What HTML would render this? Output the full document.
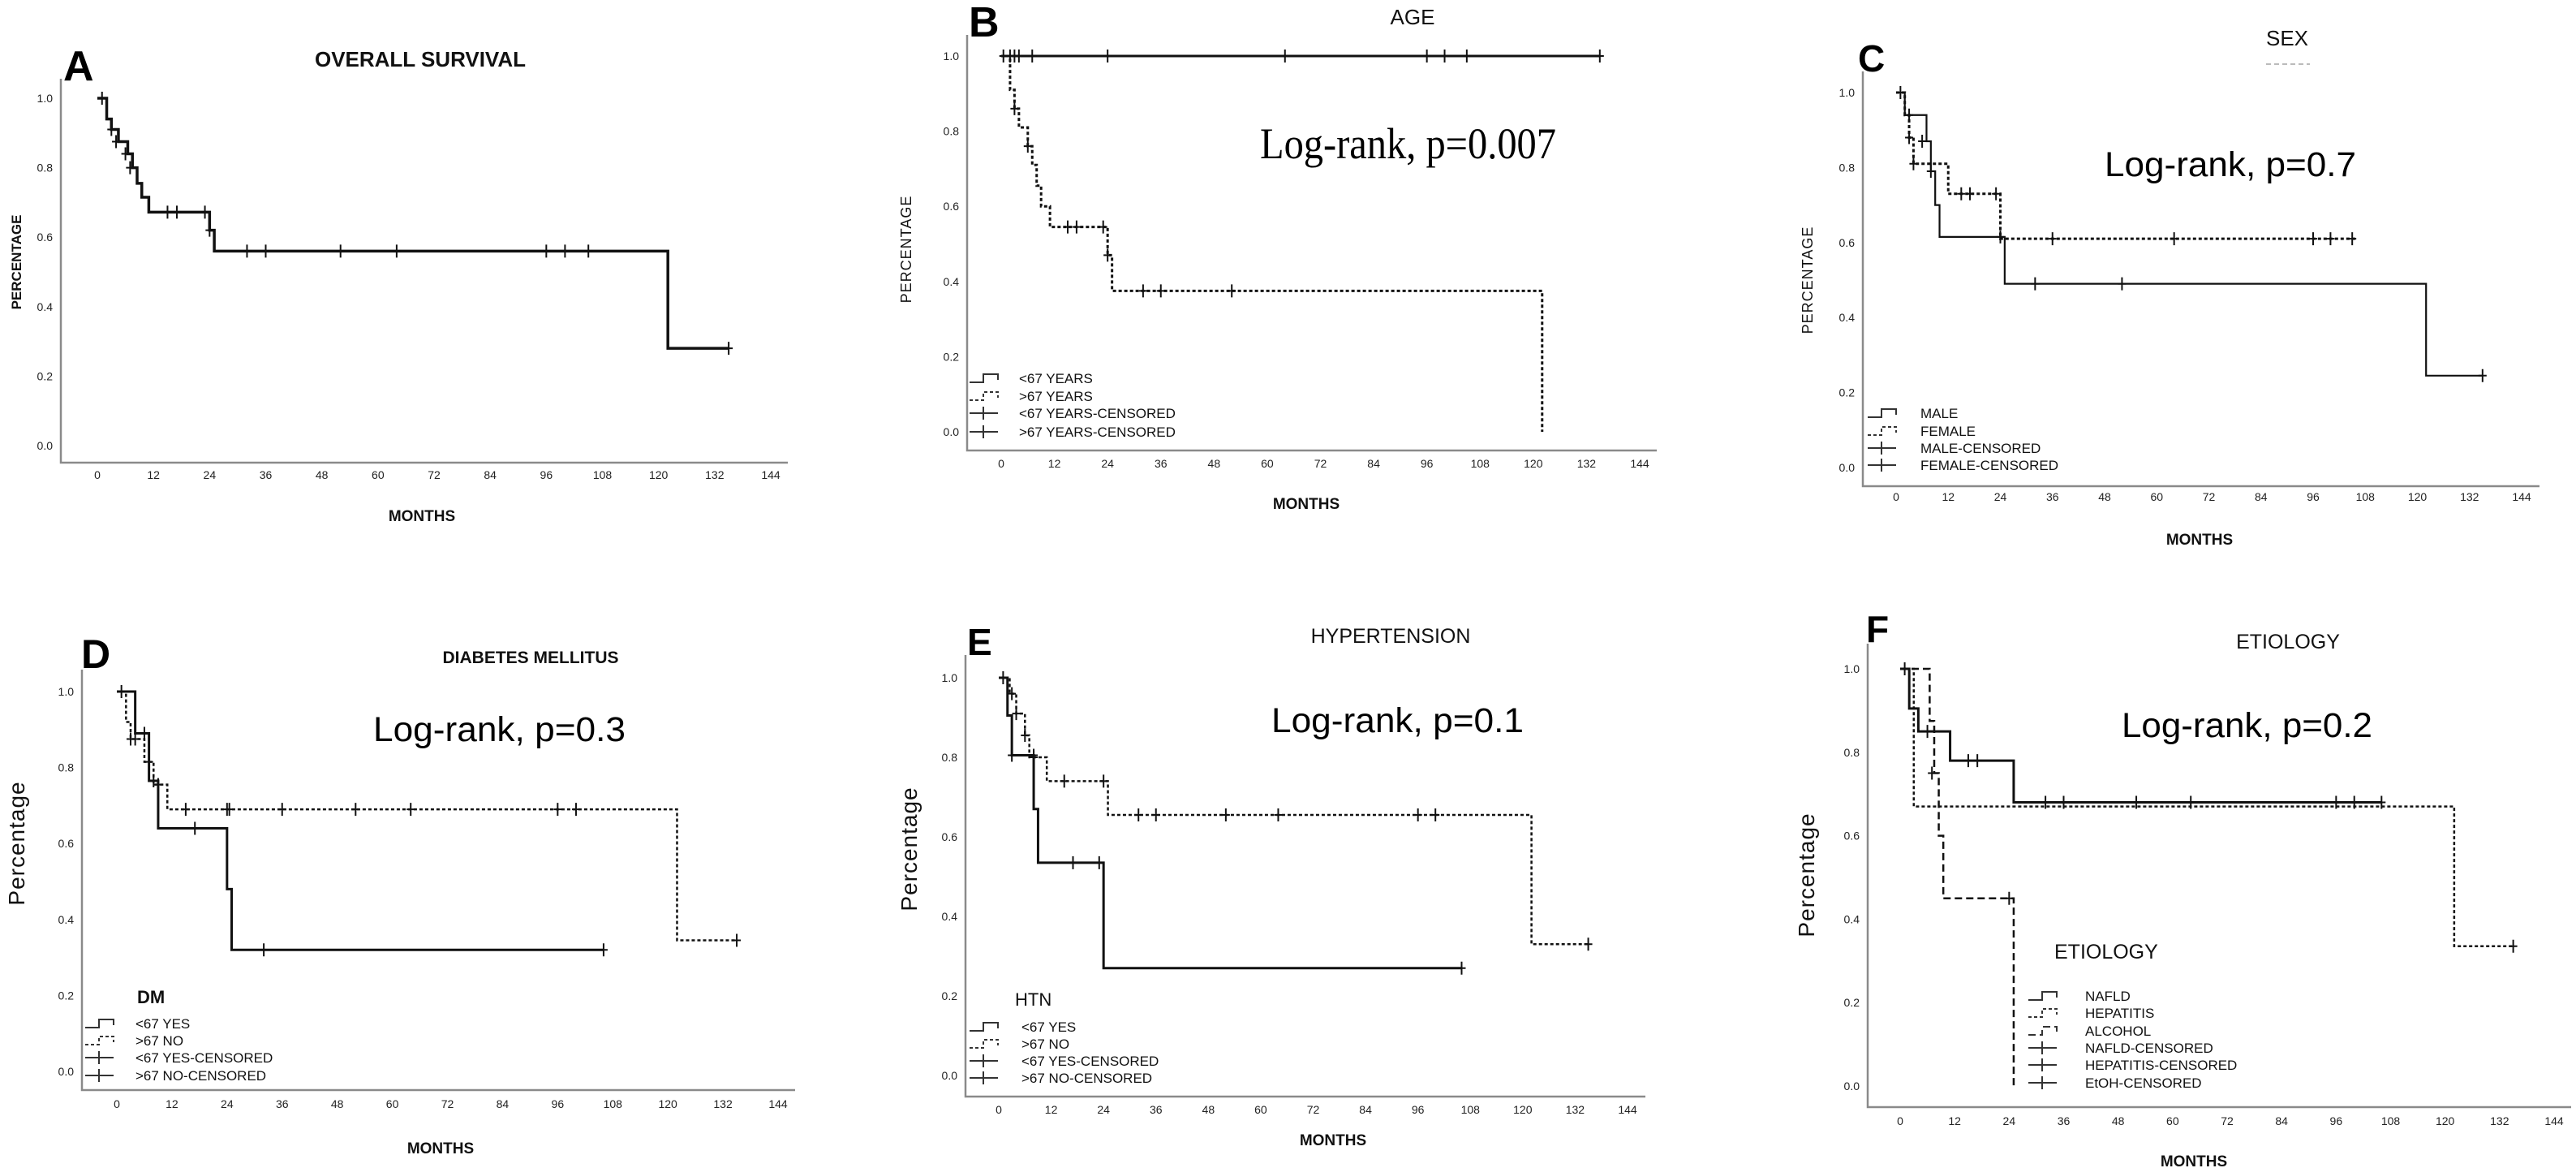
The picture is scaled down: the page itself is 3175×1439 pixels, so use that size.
<!DOCTYPE html>
<html><head><meta charset="utf-8">
<style>
html,body{margin:0;padding:0;background:#fff;}
svg{display:block;font-family:"Liberation Sans",sans-serif;}
</style></head>
<body>
<svg id="fig" width="3175" height="1439" viewBox="0 0 3175 1439" xmlns="http://www.w3.org/2000/svg"></svg>
<script>
// ---------- data ----------
const monthTicks = [0,12,24,36,48,60,72,84,96,108,120,132,144];
const probTicks = ["0.0","0.2","0.4","0.6","0.8","1.0"];

// Panel A
const aT = [0,2,3,4.5,6.5,7.5,8.5,9.5,11,24,25,122];
const aS = [1,0.94,0.91,0.875,0.84,0.80,0.755,0.715,0.672,0.62,0.56,0.28];
const aCT = [1,3,4,6,7,15,17,23,24,32,36,52,64,96,100,105,135];
const aCS = [1,0.91,0.875,0.84,0.80,0.672,0.672,0.672,0.62,0.56,0.56,0.56,0.56,0.56,0.56,0.56,0.28];
// Panel B
const b1T = [0]; const b1S = [1];
const b1CT = [0.5,2,3,4,7,24,64,96,100,105,135];
const b1CS = [1,1,1,1,1,1,1,1,1,1,1];
const b2T = [0,2,3,4,6,7,8,9,11,24,25,122];
const b2S = [1,0.91,0.86,0.81,0.76,0.71,0.655,0.6,0.545,0.47,0.375,0.0];
const b2CT = [3,6,15,17,23,24,32,36,52];
const b2CS = [0.86,0.76,0.545,0.545,0.545,0.47,0.375,0.375,0.375];
// Panel C
const c1T = [0,2,7,8,9,10,25,122];
const c1S = [1,0.94,0.87,0.79,0.70,0.615,0.49,0.245];
const c1CT = [1,6,8,32,52,135];
const c1CS = [1,0.87,0.79,0.49,0.49,0.245];
const c2T = [0,2,3,4,12,24];
const c2S = [1,0.94,0.88,0.81,0.73,0.61];
const c2CT = [3,3,4,15,17,23,24,36,64,96,100,105];
const c2CS = [0.94,0.88,0.81,0.73,0.73,0.73,0.615,0.61,0.61,0.61,0.61,0.61];
// Panel D
const d1T = [0,4,7,9,24,25];
const d1S = [1,0.89,0.765,0.64,0.48,0.32];
const d1CT = [1,6,8,17,32,106];
const d1CS = [1,0.89,0.765,0.64,0.32,0.32];
const d2T = [0,2,3,6,8,11,122];
const d2S = [1,0.92,0.875,0.815,0.755,0.69,0.345];
const d2CT = [3,4,7,9,15,24,24.5,36,52,64,96,100,135];
const d2CS = [0.875,0.875,0.815,0.755,0.69,0.69,0.69,0.69,0.69,0.69,0.69,0.69,0.345];
// Panel E
const e1T = [0,2,3,8,9,24];
const e1S = [1,0.905,0.805,0.67,0.535,0.27];
const e1CT = [1,3,8,17,23,106];
const e1CS = [1,0.805,0.805,0.535,0.535,0.27];
const e2T = [0,2.5,4,6,7,11,25,122];
const e2S = [1,0.96,0.91,0.855,0.80,0.74,0.655,0.33];
const e2CT = [3,4,6,8,15,24,32,36,52,64,96,100,135];
const e2CS = [0.96,0.91,0.855,0.80,0.74,0.74,0.655,0.655,0.655,0.655,0.655,0.655,0.33];
// Panel F
const f1T = [0,2,4,11,25];
const f1S = [1,0.905,0.85,0.78,0.68];
const f1CT = [1,6,15,17,32,36,52,64,96,100,106];
const f1CS = [1,0.85,0.78,0.78,0.68,0.68,0.68,0.68,0.68,0.68,0.68];
const f2T = [0,3,122];
const f2S = [1,0.67,0.335];
const f2CT = [135]; const f2CS = [0.335];
const f3T = [0,6.5,7.5,8.5,9.5,25];
const f3S = [1,0.875,0.75,0.60,0.45,0.0];
const f3CT = [7,24]; const f3CS = [0.75,0.45];

// ---------- drawing ----------
const NS = "http://www.w3.org/2000/svg";
const svg = document.getElementById('fig');
function mk(tag, attrs, parent, text){
  const e = document.createElementNS(NS, tag);
  for (const k in attrs) e.setAttribute(k, attrs[k]);
  if (text !== undefined) e.textContent = text;
  (parent || svg).appendChild(e);
  return e;
}

function panel(P){
  const g = mk('g', {});
  
  
  const sx = m => P.x0 + (P.x144 - P.x0) * m / 144;
  const sy = v => P.y0 + (P.y1 - P.y0) * v;
  // axes
  const ax = mk('path', {d:`M${P.axL},${P.axT} L${P.axL},${P.axB} L${P.axR},${P.axB}`, fill:'none', stroke:'#8a8a8a', 'stroke-width':2.5}, g);
  
  
  // y ticks
  probTicks.forEach(t => {
    const tl = mk('text', {x:P.axL-10, y:sy(parseFloat(t))+5, 'text-anchor':'end', 'font-size':14, fill:'#222'}, g, t);
    
    
  });
  monthTicks.forEach(m => {
    const tl = mk('text', {x:sx(m), y:P.tickY+5, 'text-anchor':'middle', 'font-size':14, fill:'#222'}, g, String(m));
    
    
  });
  // axis titles
  const xt = mk('text', {x:P.mx, y:P.my+7, 'text-anchor':'middle', 'font-size':19, 'font-weight':'bold', fill:'#111'}, g, 'MONTHS');
  
  
  const yt = mk('text', {x:0, y:0, 'text-anchor':'middle', 'font-size':P.ytSize, 'font-weight':P.ytBold?'bold':'normal', fill:'#111', transform:`translate(${P.ytx},${P.yty}) rotate(-90)`, 'letter-spacing':P.ytLs||0}, g, P.yTitle);
  
  
  // panel letter
  const lt = mk('text', {x:P.lx, y:P.ly, 'font-size':P.lsize, 'font-weight':'bold', fill:'#000'}, g, P.letter);
  
  
  // title
  const tt = mk('text', {x:P.tx, y:P.ty, 'text-anchor':'middle', 'font-size':P.tsize, 'font-weight':P.tbold?'bold':'normal', fill:'#111'}, g, P.title);
  
  
  // log-rank
  if (P.lr){
    const lr = mk('text', {x:P.lr.x, y:P.lr.y, 'font-size':P.lr.size, 'font-family':P.lr.serif?'"Liberation Serif",serif':'"Liberation Sans",sans-serif', textLength:P.lr.w, lengthAdjust:'spacingAndGlyphs', fill:'#000'}, g, P.lr.text);
    
    
  }
  // series
  P.series.forEach(S => {
    let d = `M${sx(S.t[0])},${sy(S.s[0])}`;
    for (let i = 1; i < S.t.length; i++){
      d += ` L${sx(S.t[i])},${sy(S.s[i-1])} L${sx(S.t[i])},${sy(S.s[i])}`;
    }
    d += ` L${sx(S.end)},${sy(S.s[S.s.length-1])}`;
    const p = mk('path', {d:d, fill:'none', stroke:'#111', 'stroke-width':S.w, 'stroke-dasharray':S.dash||'none'}, g);
    
    
    S.ct.forEach((m,i) => {
      const c = mk('path', {d:`M${sx(m)},${sy(S.cs[i])-8} L${sx(m)},${sy(S.cs[i])+8} M${sx(m)-5},${sy(S.cs[i])} L${sx(m)+5},${sy(S.cs[i])}`, stroke:'#111', 'stroke-width':2}, g);
      
      
    });
  });
  // legend
  if (P.leg){
    const L = P.leg;
    if (L.head){
      const h = mk('text', {x:L.hx, y:L.hy+9, 'font-size':L.hsize, 'font-weight':L.hbold?'bold':'normal', fill:'#111'}, g, L.head);
      
      
    }
    L.items.forEach((it, i) => {
      const y = L.ys[i];
      const x0 = L.sx, x1 = L.sx + 35;
      let d, dash = 'none';
      if (it.kind === 'censor'){
        d = `M${x0},${y} L${x1},${y} M${x0+17},${y-8} L${x0+17},${y+8}`;
      } else {
        d = `M${x0},${y+5} L${x0+17},${y+5} L${x0+17},${y-5} L${x1},${y-5} L${x1},${y+2}`;
        dash = it.dash || 'none';
      }
      const s = mk('path', {d:d, fill:'none', stroke:it.kind==='censor'?'#333':'#333', 'stroke-width':2, 'stroke-dasharray':dash}, g);
      
      
      const t = mk('text', {x:L.tx, y:y+6, 'font-size':17, fill:'#111'}, g, it.label);
      
      
    });
  }
}

const DOT = '4,3', DASH = '9,5';

panel({name:'panel-a-overall-survival', letter:'A', lx:78, ly:99, lsize:52,
  title:'OVERALL SURVIVAL', tx:518, ty:82, tsize:26, tbold:true,
  axL:75, axT:97, axB:570, axR:971, x0:120, x144:950, y1:121, y0:549, tickY:585,
  mx:520, my:635, yTitle:'PERCENTAGE', ytx:26, yty:323, ytSize:17, ytBold:true,
  series:[{name:'overall', t:aT, s:aS, end:135, ct:aCT, cs:aCS, w:3.5}]});

panel({name:'panel-b-age', letter:'B', lx:1194, ly:45, lsize:52,
  title:'AGE', tx:1741, ty:30, tsize:26, tbold:false,
  axL:1192, axT:43, axB:555, axR:2042, x0:1234, x144:2021, y1:69, y0:532, tickY:571,
  mx:1610, my:620, yTitle:'PERCENTAGE', ytx:1123, yty:307, ytSize:18, ytLs:1,
  lr:{text:'Log-rank, p=0.007', x:1553, y:195, size:54, w:365, serif:true},
  series:[{name:'under-67', t:b1T, s:b1S, end:135, ct:b1CT, cs:b1CS, w:3},
          {name:'over-67', t:b2T, s:b2S, end:122, ct:b2CT, cs:b2CS, w:3, dash:DOT}],
  leg:{sx:1195, tx:1256, ys:[466,488,509,532], items:[
    {label:'<67 YEARS'},{label:'>67 YEARS', dash:DOT},{label:'<67 YEARS-CENSORED', kind:'censor'},{label:'>67 YEARS-CENSORED', kind:'censor'}]}});

panel({name:'panel-c-sex', letter:'C', lx:2290, ly:88, lsize:46,
  title:'SEX', tx:2819, ty:56, tsize:26, tbold:false,
  axL:2296, axT:88, axB:599, axR:3130, x0:2337, x144:3108, y1:114, y0:576, tickY:612,
  mx:2711, my:664, yTitle:'PERCENTAGE', ytx:2234, yty:345, ytSize:18, ytLs:1,
  lr:{text:'Log-rank, p=0.7', x:2594, y:217, size:43, w:310},
  series:[{name:'male', t:c1T, s:c1S, end:135, ct:c1CT, cs:c1CS, w:2.2},
          {name:'female', t:c2T, s:c2S, end:106, ct:c2CT, cs:c2CS, w:3, dash:DOT}],
  leg:{sx:2302, tx:2367, ys:[509,531,552,573], items:[
    {label:'MALE'},{label:'FEMALE', dash:DOT},{label:'MALE-CENSORED', kind:'censor'},{label:'FEMALE-CENSORED', kind:'censor'}]}});

panel({name:'panel-d-diabetes', letter:'D', lx:100, ly:823, lsize:50,
  title:'DIABETES MELLITUS', tx:654, ty:817, tsize:21, tbold:true,
  axL:101, axT:825, axB:1343, axR:980, x0:144, x144:959, y1:852, y0:1320, tickY:1360,
  mx:543, my:1414, yTitle:'Percentage', ytx:30, yty:1039, ytSize:28, ytLs:1,
  lr:{text:'Log-rank, p=0.3', x:460, y:913, size:43, w:311},
  series:[{name:'dm-yes', t:d1T, s:d1S, end:106, ct:d1CT, cs:d1CS, w:3},
          {name:'dm-no', t:d2T, s:d2S, end:135, ct:d2CT, cs:d2CS, w:2.5, dash:DOT}],
  leg:{head:'DM', hx:169, hy:1227, hsize:22, hbold:true, sx:105, tx:167, ys:[1261,1282,1303,1325], items:[
    {label:'<67 YES'},{label:'>67 NO', dash:DOT},{label:'<67 YES-CENSORED', kind:'censor'},{label:'>67 NO-CENSORED', kind:'censor'}]}});

panel({name:'panel-e-hypertension', letter:'E', lx:1192, ly:807, lsize:46,
  title:'HYPERTENSION', tx:1714, ty:792, tsize:25, tbold:false,
  axL:1190, axT:807, axB:1351, axR:2028, x0:1231, x144:2006, y1:835, y0:1325, tickY:1367,
  mx:1643, my:1404, yTitle:'Percentage', ytx:1130, yty:1046, ytSize:28, ytLs:1,
  lr:{text:'Log-rank, p=0.1', x:1567, y:902, size:43, w:311},
  series:[{name:'htn-yes', t:e1T, s:e1S, end:106, ct:e1CT, cs:e1CS, w:3},
          {name:'htn-no', t:e2T, s:e2S, end:135, ct:e2CT, cs:e2CS, w:2.5, dash:DOT}],
  leg:{head:'HTN', hx:1251, hy:1230, hsize:22, hbold:false, sx:1195, tx:1259, ys:[1265,1286,1307,1328], items:[
    {label:'<67 YES'},{label:'>67 NO', dash:DOT},{label:'<67 YES-CENSORED', kind:'censor'},{label:'>67 NO-CENSORED', kind:'censor'}]}});

panel({name:'panel-f-etiology', letter:'F', lx:2300, ly:791, lsize:46,
  title:'ETIOLOGY', tx:2820, ty:799, tsize:25, tbold:false,
  axL:2302, axT:793, axB:1364, axR:3169, x0:2342, x144:3148, y1:824, y0:1338, tickY:1381,
  mx:2704, my:1430, yTitle:'Percentage', ytx:2236, yty:1078, ytSize:28, ytLs:1,
  lr:{text:'Log-rank, p=0.2', x:2615, y:908, size:43, w:309},
  series:[{name:'nafld', t:f1T, s:f1S, end:106, ct:f1CT, cs:f1CS, w:3},
          {name:'hepatitis', t:f2T, s:f2S, end:135, ct:f2CT, cs:f2CS, w:2.5, dash:DOT},
          {name:'alcohol', t:f3T, s:f3S, end:25, ct:f3CT, cs:f3CS, w:2.5, dash:DASH}],
  leg:{head:'ETIOLOGY', hx:2532, hy:1172, hsize:25, hbold:false, sx:2500, tx:2570, ys:[1227,1248,1270,1291,1312,1334], items:[
    {label:'NAFLD'},{label:'HEPATITIS', dash:DOT},{label:'ALCOHOL', dash:DASH},{label:'NAFLD-CENSORED', kind:'censor'},{label:'HEPATITIS-CENSORED', kind:'censor'},{label:'EtOH-CENSORED', kind:'censor'}]}});

// faint mark under SEX title
const faint = mk('line', {x1:2793, y1:79, x2:2847, y2:79, stroke:'#bbb', 'stroke-width':2, 'stroke-dasharray':'6,4'});


</script>
</body></html>
